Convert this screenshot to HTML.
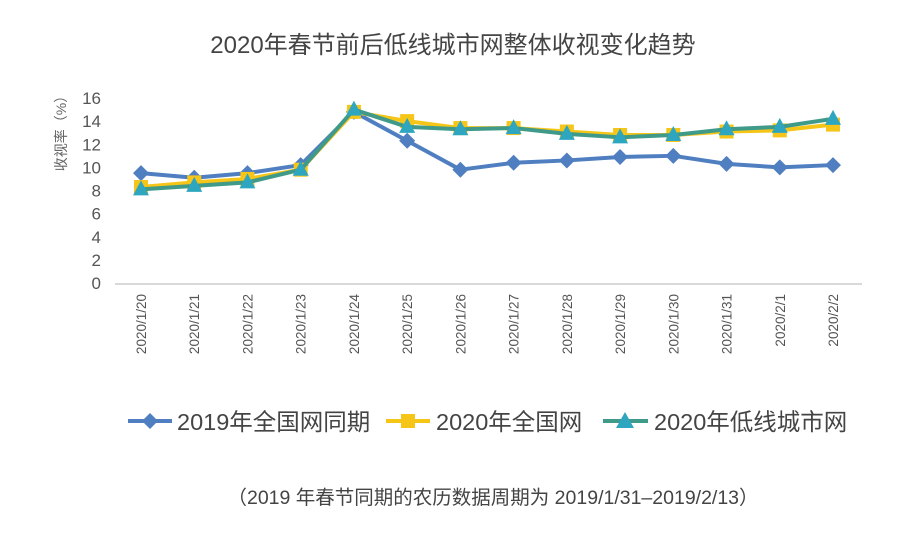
<!DOCTYPE html>
<html><head><meta charset="utf-8"><style>
body{margin:0;background:#fff;}
svg{display:block;font-family:"Liberation Sans","Noto Sans CJK SC",sans-serif;}
</style></head><body>
<svg id="c" width="906" height="534">
<text x="453" y="53" text-anchor="middle" font-size="24" fill="#444">2020年春节前后低线城市网整体收视变化趋势</text>
<text transform="translate(66,130) rotate(-90)" text-anchor="middle" font-size="14" fill="#666">收视率（%）</text>
<g id="axes"></g><g id="series"></g>
<g>
<g><line x1="128" y1="421" x2="172" y2="421" stroke="#4f7fc0" stroke-width="4"/><path d="M150,413 L158,421 L150,429 L142,421Z" fill="#4f7fc0"/><text x="177" y="430" font-size="23.5" fill="#444">2019年全国网同期</text></g>
<g><line x1="386" y1="421" x2="430" y2="421" stroke="#f5c518" stroke-width="4"/><rect x="401" y="414" width="14" height="14" fill="#f5c518"/><text x="436" y="430" font-size="23.5" fill="#444">2020年全国网</text></g>
<g><line x1="603" y1="421" x2="648" y2="421" stroke="#3f9a8a" stroke-width="4"/><path d="M625,412 L634,428 L616,428Z" fill="#2fa6c0"/><text x="654" y="430" font-size="23.5" fill="#444">2020年低线城市网</text></g>
</g>
<text x="493" y="504" text-anchor="middle" font-size="19.5" fill="#444">（2019 年春节同期的农历数据周期为 2019/1/31–2019/2/13）</text>
</svg>
<script>
const categories=["2020/1/20","2020/1/21","2020/1/22","2020/1/23","2020/1/24","2020/1/25","2020/1/26","2020/1/27","2020/1/28","2020/1/29","2020/1/30","2020/1/31","2020/2/1","2020/2/2"];
const s2019=[9.5,9.1,9.5,10.2,14.8,12.3,9.8,10.4,10.6,10.9,11.0,10.3,10.0,10.2];
const s2020National=[8.3,8.7,9.0,9.8,14.8,14.0,13.4,13.4,13.1,12.8,12.8,13.1,13.2,13.7];
const s2020LowTier=[8.1,8.4,8.7,9.8,15.0,13.5,13.3,13.4,12.9,12.6,12.8,13.3,13.5,14.2];
const yTicks=[0,2,4,6,8,10,12,14,16];
const NS="http://www.w3.org/2000/svg";
const x0=141,x1=833,yBase=283,yTop=98,yMax=16;
const xs=i=>x0+(x1-x0)*i/(categories.length-1);
const ys=v=>yBase-(yBase-yTop)*v/yMax;
function mk(t,a,p){const e=document.createElementNS(NS,t);for(const k in a)e.setAttribute(k,a[k]);p.appendChild(e);return e;}
const ax=document.getElementById('axes');
const base=mk('line',{x1:115,y1:284,x2:862,y2:284,stroke:'#d9d9d9','stroke-width':2},ax);


yTicks.forEach(v=>{const t=mk('text',{x:101,y:ys(v)+6,'text-anchor':'end','font-size':17,fill:'#555'},ax);t.textContent=v;

});
categories.forEach((c,i)=>{const x=xs(i);
const t=mk('text',{transform:`translate(${x+5},294) rotate(-90)`,'text-anchor':'end','font-size':13.5,fill:'#555'},ax);t.textContent=c;

});
const sg=document.getElementById('series');
function draw(data,color,mcolor,shape,name){
const g=mk('g',{},sg);


mk('polyline',{points:data.map((v,i)=>xs(i)+','+ys(v)).join(' '),fill:'none',stroke:color,'stroke-width':4,'stroke-linejoin':'round'},g);
data.forEach((v,i)=>{const x=xs(i),y=ys(v);let m;
if(shape==='d')m=mk('path',{d:`M${x},${y-8}L${x+8},${y}L${x},${y+8}L${x-8},${y}Z`,fill:mcolor},g);
else if(shape==='s')m=mk('rect',{x:x-7,y:y-7,width:14,height:14,fill:mcolor},g);
else m=mk('path',{d:`M${x},${y-9}L${x+8},${y+6}L${x-8},${y+6}Z`,fill:mcolor},g);

});}
draw(s2019,'#4f7fc0','#4f7fc0','d','series-2019');
draw(s2020National,'#f5c518','#f5c518','s','series-2020-national');
draw(s2020LowTier,'#3f9a8a','#2fa6c0','t','series-2020-lowtier');
</script>
</body></html>
